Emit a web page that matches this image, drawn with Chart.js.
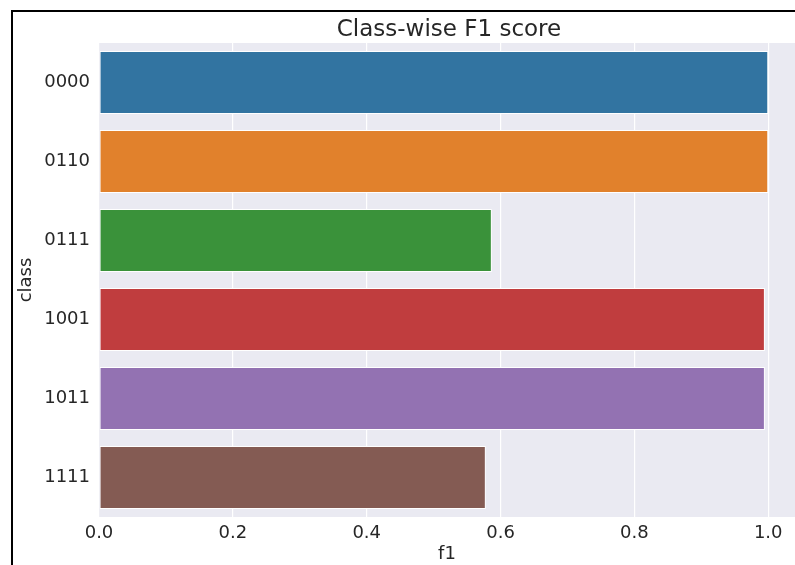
<!DOCTYPE html>
<html lang="en">
<head>
    <meta charset="UTF-8">
    <title>Class-wise F1 score</title>
    <script src="https://cdn.jsdelivr.net/npm/chart.js"></script>
    <style>
        html, body {
            margin: 0;
            padding: 0;
            width: 795px;
            height: 565px;
            background: #ffffff;
            overflow: hidden;
        }
        #chartContainer {
            position: absolute;
            left: 0;
            top: 0;
            width: 795px;
            height: 565px;
        }
        #frame {
            position: absolute;
            left: 11px;
            top: 10px;
            width: 820px;
            height: 600px;
            border-left: 2px solid #000;
            border-top: 2px solid #000;
            pointer-events: none;
        }
    </style>
</head>
<body>
    <div id="chartContainer">
        <canvas id="f1Chart"></canvas>
    </div>
    <div id="frame"></div>
    <script>
        const classes = ['0000', '0110', '0111', '1001', '1011', '1111'];
        const f1Scores = [1.0, 1.0, 0.587, 0.995, 0.995, 0.578];
        const barColors = ['#3274A1', '#E1812C', '#3A923A', '#C03D3E', '#9372B2', '#845B53'];
        const xTicks = [0, 0.2, 0.4, 0.6, 0.8, 1.0];
        const chartTitle = 'Class-wise F1 score';

        const textColor = '#262626';
        const fontFamily = '"DejaVu Sans", sans-serif';

        // seaborn darkgrid background + title centred over the axes (like matplotlib)
        const plotBackground = {
            id: 'plotBackground',
            beforeDraw(chart) {
                const { ctx, chartArea } = chart;
                ctx.save();
                ctx.fillStyle = '#EAEAF2';
                ctx.fillRect(chartArea.left, chartArea.top,
                    chartArea.right - chartArea.left, chartArea.bottom - chartArea.top);
                ctx.restore();
            },
            afterDraw(chart) {
                const { ctx, chartArea } = chart;
                ctx.save();
                ctx.fillStyle = textColor;
                ctx.font = '23px ' + fontFamily;
                ctx.textAlign = 'center';
                ctx.textBaseline = 'middle';
                ctx.fillText(chartTitle, (chartArea.left + chartArea.right) / 2 + 2, 30);
                ctx.restore();
            }
        };

        new Chart(document.getElementById('f1Chart'), {
            type: 'bar',
            data: {
                labels: classes,
                datasets: [{
                    label: 'f1',
                    data: f1Scores,
                    backgroundColor: barColors,
                    borderColor: '#ffffff',
                    borderWidth: 1,
                    borderSkipped: false,
                    barPercentage: 0.8,
                    categoryPercentage: 1.0
                }]
            },
            options: {
                indexAxis: 'y',
                responsive: true,
                maintainAspectRatio: false,
                animation: false,
                layout: { padding: { left: 0, right: 0, top: 43, bottom: 0 } },
                plugins: {
                    legend: { display: false },
                    tooltip: { enabled: false },
                    title: { display: false }
                },
                scales: {
                    x: {
                        type: 'linear',
                        min: 0,
                        max: 1.04,
                        afterBuildTicks(scale) {
                            scale.ticks = xTicks.map(v => ({ value: v }));
                        },
                        afterFit(scale) {
                            scale.height = 48;
                        },
                        border: { display: false },
                        grid: { color: '#ffffff', lineWidth: 1.2, drawTicks: false },
                        ticks: {
                            color: textColor,
                            padding: 6,
                            font: { family: fontFamily, size: 18 },
                            callback: v => v.toFixed(1)
                        },
                        title: {
                            display: true,
                            text: 'f1',
                            color: textColor,
                            font: { family: fontFamily, size: 18 },
                            padding: { top: 0, bottom: 0 }
                        }
                    },
                    y: {
                        afterFit(scale) {
                            scale.width = 99;
                        },
                        border: { display: false },
                        // no horizontal grid lines on the category axis
                        grid: { color: 'rgba(0,0,0,0)', drawTicks: false },
                        ticks: {
                            color: textColor,
                            padding: 9,
                            font: { family: fontFamily, size: 18 }
                        },
                        title: {
                            display: true,
                            text: 'class',
                            color: textColor,
                            font: { family: fontFamily, size: 18 },
                            padding: { top: 16, bottom: 0 }
                        }
                    }
                }
            },
            plugins: [plotBackground]
        });
    </script>
</body>
</html>
